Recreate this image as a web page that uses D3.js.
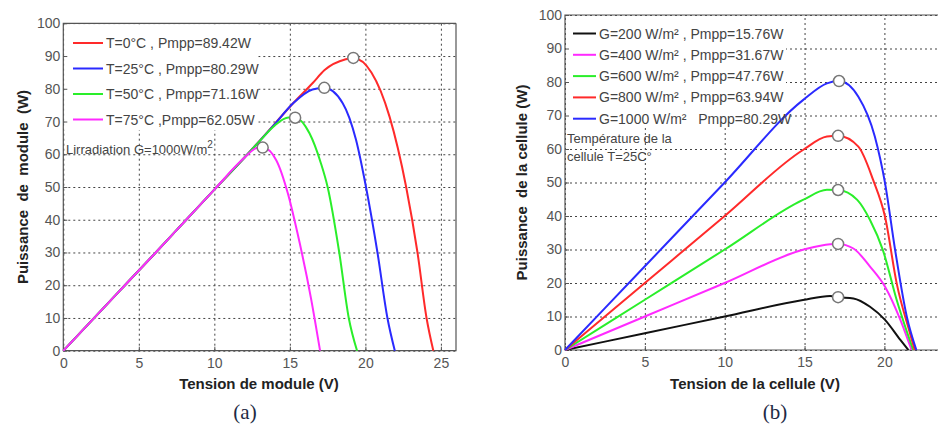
<!DOCTYPE html>
<meta charset="utf-8">
<style>
html, body { margin: 0; padding: 0; background: #fff; }
svg { display: block; font-family: Arial, "Liberation Sans", sans-serif; }
.grid line { stroke: #444; stroke-dasharray: 2,3; stroke-width: 1; }
.grid path { display: none; }
.ax text { fill: #555; font-size: 14px; }
.ax line { stroke: #555; }
.ax path { display: none; }
.title { font-weight: bold; font-size: 15px; fill: #222; white-space: pre; }
.leg { font-size: 14px; fill: #444; white-space: pre; }
.note { font-size: 13px; fill: #444; }
.cap { font-family: "Liberation Serif", "DejaVu Serif", serif; font-size: 21px; fill: #1e2a44; }
</style>
<div id="chart"></div>
<script src="https://cdn.jsdelivr.net/npm/d3@7"></script>
<script>

// ---- data, chart (a): temperature effect ----
var tempLabels = ["T=0°C , Pmpp=89.42W", "T=25°C , Pmpp=80.29W", "T=50°C , Pmpp=71.16W", "T=75°C ,Pmpp=62.05W"];
var tempColors = ["#ff2a2a", "#2a2aff", "#2aee2a", "#ff2aff"];
var tempV = [
  [0, 2, 4, 6, 8, 10, 12, 14, 15.2, 16.5, 17.3, 18.7, 19.2, 20.4, 21.6, 22.7, 23.45, 24.05, 24.5],
  [0, 2, 4, 6, 8, 10, 12, 14, 15.2, 16.5, 17.28, 18.5, 19.38, 20.04, 20.8, 21.46, 21.95],
  [0, 2, 4, 6, 8, 10, 12, 13, 14, 14.9, 15.35, 16.3, 17.06, 17.5, 18.27, 18.9, 19.45],
  [0, 2, 4, 6, 8, 10, 12, 12.8, 13.2, 14.1, 14.87, 15.5, 16.4, 17.0]
];
var tempP = [
  [0, 9.8, 19.6, 29.4, 39.3, 49.2, 59, 69.3, 75.5, 81.7, 85.7, 89, 89.42, 85, 71.5, 50, 30, 10, 0],
  [0, 9.8, 19.6, 29.4, 39.3, 49.2, 59, 69.2, 75.5, 79.8, 80.29, 75.6, 64.4, 50, 30, 10, 0],
  [0, 9.8, 19.6, 29.4, 39.3, 49.2, 59, 64, 68.8, 71.2, 71.16, 66.4, 57.2, 50, 30, 10, 0],
  [0, 9.8, 19.6, 29.4, 39.3, 49.2, 59, 61.9, 62.05, 58.2, 48, 36, 16, 0]
];
var tempMpp = [[19.2, 89.42], [17.28, 80.29], [15.35, 71.16], [13.2, 62.05]];

// ---- data, chart (b): irradiance effect ----
var irrLabels = ["G=200 W/m² , Pmpp=15.76W", "G=400 W/m² , Pmpp=31.67W", "G=600 W/m² , Pmpp=47.76W", "G=800 W/m² , Pmpp=63.94W", "G=1000 W/m²   Pmpp=80.29W"];
var irrColors = ["#111111", "#ff2aff", "#2aee2a", "#ff2a2a", "#2a2aff"];
var irrV = [
  [0, 5, 10, 14.9, 16.6, 17.1, 18.06, 19.1, 20.04, 21, 21.5],
  [0, 5, 10, 14.9, 16.6, 17.1, 18.06, 19.1, 20.04, 21, 21.7],
  [0, 5, 10, 14.9, 16.4, 17.1, 18.3, 19.1, 19.9, 20.77, 21.8],
  [0, 5, 10, 14.9, 16.4, 17.1, 18.37, 19.3, 20.04, 20.77, 21.6, 21.9],
  [0, 5, 10, 14.9, 16.4, 17.16, 18.37, 19.4, 20.04, 20.67, 21.4, 22.0]
];
var irrP = [
  [0, 5, 10, 14.9, 16.1, 15.76, 15.4, 12.9, 9, 3, 0],
  [0, 10, 20, 29.9, 31.6, 31.67, 30.3, 24.9, 18.9, 9, 0],
  [0, 15, 30, 44.8, 47.8, 47.76, 44.8, 38.8, 29.9, 14.9, 0],
  [0, 20, 40, 59.7, 63.7, 63.94, 60.7, 50.7, 39.8, 19.9, 5, 0],
  [0, 25, 50, 74.6, 79.6, 80.29, 75.6, 63.7, 49.8, 29.9, 10, 0]
];
var irrMpp = [[17.1, 15.76], [17.1, 31.67], [17.1, 47.76], [17.1, 63.94], [17.16, 80.29]];

var yTicks = d3.range(0, 101, 10);

var svg = d3.select("#chart").append("svg")
    .attr("width", 938)
    .attr("height", 425);

function panel(o) {
  var x = d3.scaleLinear().domain(o.xDomain).range([o.left, o.right]);
  var y = d3.scaleLinear().domain([0, 100]).range([o.bottom, o.top]);
  var g = svg.append("g");
  var w = o.right - o.left, h = o.bottom - o.top;

  // grid
  g.append("g").attr("class", "grid")
      .attr("transform", "translate(0," + o.bottom + ")")
      .call(d3.axisBottom(x).tickValues(o.xTicks).tickSize(-h).tickFormat(""));
  g.append("g").attr("class", "grid")
      .attr("transform", "translate(" + o.left + ",0)")
      .call(d3.axisLeft(y).tickValues(yTicks).tickSize(-w).tickFormat(""));

  // legend backdrop hides grid
  g.append("rect")
      .attr("x", o.left + 1).attr("y", o.top + 1)
      .attr("width", o.legW).attr("height", o.legH)
      .attr("fill", "#fff");

  // frame
  var frame = "M" + o.right + "," + o.top + "H" + o.left + "V" + o.bottom + "H" + o.right;
  if (o.closed) frame += "V" + o.top;
  g.append("path").attr("d", frame).attr("fill", "none").attr("stroke", "#555").attr("stroke-width", 1.2);

  // tick labels
  g.append("g").attr("class", "ax")
      .attr("transform", "translate(0," + o.bottom + ")")
      .call(d3.axisBottom(x).tickValues(o.xTicks).tickSize(-4).tickPadding(7));
  g.append("g").attr("class", "ax")
      .attr("transform", "translate(" + o.left + ",0)")
      .call(d3.axisLeft(y).tickValues(yTicks).tickSize(-4).tickPadding(3));

  // curves
  var line = d3.line().curve(d3.curveMonotoneX)
      .x(function(d) { return x(d[0]); })
      .y(function(d) { return y(d[1]); });
  o.V.forEach(function(vs, i) {
    var pts = vs.map(function(v, j) { return [v, o.P[i][j]]; });
    g.append("path").attr("d", line(pts))
        .attr("fill", "none").attr("stroke", o.colors[i]).attr("stroke-width", 2);
  });
  o.mpp.forEach(function(m) {
    g.append("circle").attr("cx", x(m[0])).attr("cy", y(m[1])).attr("r", 5.5)
        .attr("fill", "#fff").attr("stroke", "#777").attr("stroke-width", 1.5);
  });

  // legend
  o.labels.forEach(function(t, i) {
    var ly = o.legY + i * o.legStep;
    g.append("line").attr("x1", o.legX).attr("x2", o.legX + o.legLine)
        .attr("y1", ly).attr("y2", ly)
        .attr("stroke", o.colors[i]).attr("stroke-width", 2);
    g.append("text").attr("class", "leg")
        .attr("x", o.legX + o.legLine + 3).attr("y", ly + 5).text(t);
  });

  // titles
  g.append("text").attr("class", "title")
      .attr("text-anchor", "middle")
      .attr("x", o.xTitleX).attr("y", 389)
      .text(o.xTitle);
  g.append("text").attr("class", "title")
      .attr("text-anchor", "middle")
      .attr("transform", "translate(" + o.yTitleX + "," + ((o.top + o.bottom) / 2) + ") rotate(-90)")
      .text(o.yTitle);
  g.append("text").attr("class", "cap")
      .attr("text-anchor", "middle")
      .attr("x", o.capX).attr("y", 419)
      .text(o.cap);
  return g;
}

var ga = panel({
  left: 63.3, right: 456, top: 23.3, bottom: 350.7,
  xDomain: [0, 26], xTicks: [0, 5, 10, 15, 20, 25], closed: true,
  V: tempV, P: tempP, mpp: tempMpp, colors: tempColors, labels: tempLabels,
  legX: 73, legY: 43, legStep: 25.5, legLine: 30, legW: 194, legH: 106,
  xTitle: "Tension de module (V)", xTitleX: 259,
  yTitle: "Puissance  de  module  (W)", yTitleX: 28,
  cap: "(a)", capX: 245
});
var gaNote = ga.append("text").attr("class", "note").attr("x", 66).attr("y", 154);
gaNote.append("tspan").text("Lirradiation G=1000W/m");
gaNote.append("tspan").attr("dy", -6).attr("font-size", 10).text("2");

var gb = panel({
  left: 565, right: 565 + 25 * 15.97, top: 15, bottom: 350,
  xDomain: [0, 25], xTicks: [0, 5, 10, 15, 20], closed: false,
  V: irrV, P: irrP, mpp: irrMpp, colors: irrColors, labels: irrLabels,
  legX: 573, legY: 33.5, legStep: 21.3, legLine: 23, legW: 220, legH: 112,
  xTitle: "Tension de la cellule (V)", xTitleX: 755,
  yTitle: "Puissance  de la cellule (W)", yTitleX: 527,
  cap: "(b)", capX: 775
});
gb.append("text").attr("class", "note").attr("x", 567).attr("y", 143).text("Température de la");
gb.append("text").attr("class", "note").attr("x", 567).attr("y", 161).text("cellule T=25C°");
</script>
